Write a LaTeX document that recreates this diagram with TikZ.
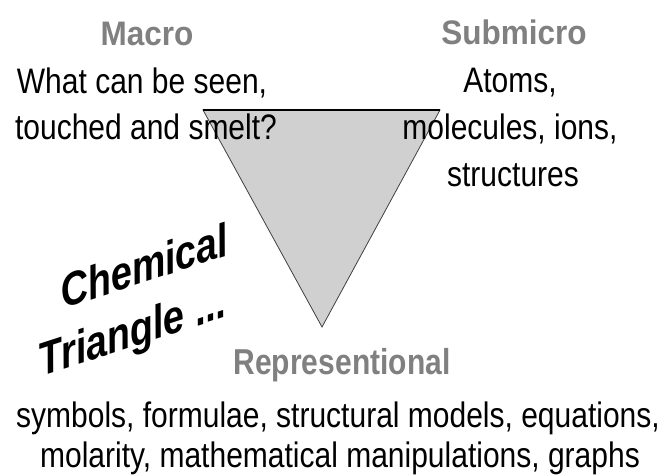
\documentclass[tikz,border=0pt]{standalone}
\usepackage{graphicx}
\usepackage{fontspec}
\setmainfont{Liberation Sans}
\definecolor{labelgray}{HTML}{808080}
\definecolor{trifill}{HTML}{D0D0D0}
\definecolor{triline}{HTML}{404040}
\newcommand\tallt[2]{\scalebox{1}[#1]{#2}}
\begin{document}
\begin{tikzpicture}[x=1pt,y=-1pt,
  head/.style={anchor=base, inner sep=0pt, text=labelgray, font=\fontsize{30}{36}\selectfont\bfseries},
  bighead/.style={head, font=\fontsize{31.5}{38}\selectfont\bfseries},
  body/.style={anchor=base, inner sep=0pt, font=\fontsize{30}{36}\selectfont},
  slanted/.style={anchor=base west, inner sep=0pt, rotate=18, xslant=0.15, font=\fontsize{39.5}{46}\selectfont\bfseries\itshape}]
\useasboundingbox (0,0) rectangle (665,475);
\fill[white] (0,0) rectangle (665,475);
% triangle
\coordinate (tl) at (203,110);
\coordinate (tr) at (440,110);
\coordinate (ap) at (322,327);
\filldraw[fill=trifill, draw=triline, line width=0.8pt] (tl) -- (tr) -- (ap) -- cycle;
\draw[black, line width=1.2pt] (tl) -- (tr);
% Macro
\node[bighead] (macro) at (147,45) {\tallt{1.08}{Macro}};
\node[body] (m1) at (142,93) {\tallt{1.18}{What can be seen,}};
\node[body] (m2) at (146,139) {\tallt{1.18}{touched and smelt?}};
% Submicro
\node[bighead] (sub) at (514,44) {\tallt{1.08}{Submicro}};
\node[body] (s1) at (510,92) {\tallt{1.18}{Atoms,}};
\node[body] (s2) at (510,139) {\tallt{1.18}{molecules, ions,}};
\node[body] (s3) at (513,186) {\tallt{1.18}{structures}};
% Representational
\node[head] (rep) at (342,374) {\tallt{1.2}{Representional}};
\node[body] (r1) at (338,427) {\tallt{1.18}{symbols, formulae, structural models, equations,}};
\node[body] (r2) at (340,467) {\tallt{1.18}{molarity, mathematical manipulations, graphs}};
% Chemical Triangle
\node[slanted] (chem) at (63,309) {\tallt{1.15}{Chemical}};
\node[slanted] (tri) at (41,377) {\tallt{1.15}{Triangle ...}};
\end{tikzpicture}
\end{document}
